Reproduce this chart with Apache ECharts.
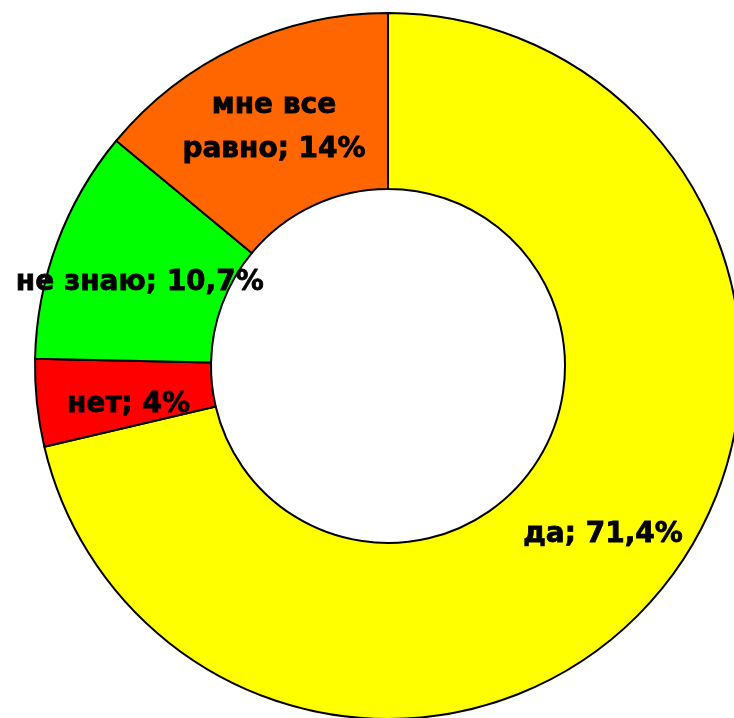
<!DOCTYPE html>
<html>
<head>
<meta charset="utf-8">
<script src="https://cdn.jsdelivr.net/npm/echarts@6/dist/echarts.min.js"></script>
<style>
html,body{margin:0;padding:0;background:#fff;}
#chart{width:734px;height:718px;}
</style>
</head>
<body>
<div id="chart"></div>
<script>
const categories = ['да', 'нет', 'не знаю', 'мне все равно'];
const values = [71.4, 4, 10.7, 14];
const colors = ['#FFFF00', '#FF0000', '#00FF00', '#FF6600'];
const labelNames = ['да', 'нет', 'не знаю', 'мне все\nравно'];
const labelShift = [[5, 2], [7, 11], [3, 10], [0, 4]];

const chart = echarts.init(document.getElementById('chart'));
chart.setOption({
  animation: false,
  series: [{
    type: 'pie',
    center: [388, 366],
    radius: [177, 353],
    startAngle: 90,
    clockwise: true,
    avoidLabelOverlap: false,
    itemStyle: { borderColor: '#000', borderWidth: 2 },
    label: {
      show: true,
      position: 'inside',
      color: '#000',
      fontFamily: 'DejaVu Sans',
      fontWeight: 'bold',
      fontSize: 28,
      lineHeight: 44,
      textBorderColor: '#000',
      textBorderWidth: 0.8,
      formatter: p => labelNames[p.dataIndex] + '; ' + String(p.value).replace('.', ',') + '%'
    },
    labelLine: { show: false },
    emphasis: { disabled: true },
    data: categories.map((c, i) => ({
      name: c,
      value: values[i],
      itemStyle: { color: colors[i] },
      label: { offset: labelShift[i] }
    }))
  }]
});
</script>
</body>
</html>
